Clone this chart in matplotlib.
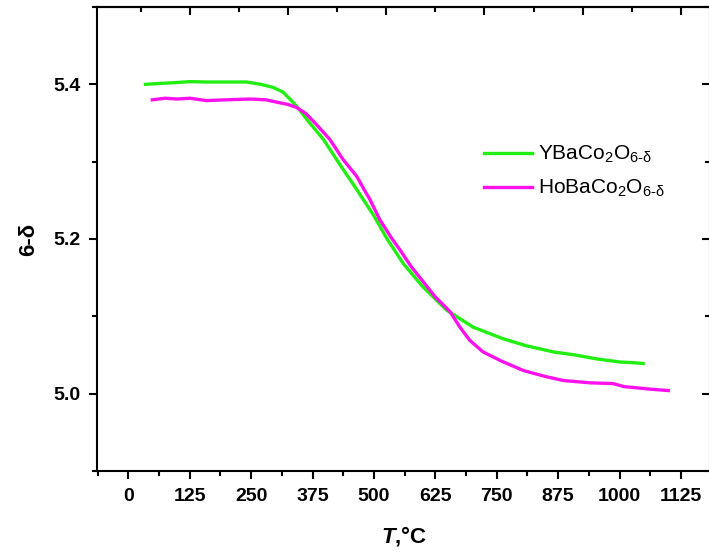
import matplotlib
matplotlib.use("Agg")
import matplotlib.pyplot as plt
from matplotlib.ticker import MultipleLocator, FixedLocator

plt.rcParams['font.family'] = ['Liberation Sans', 'DejaVu Sans']
plt.rcParams['mathtext.fontset'] = 'custom'
plt.rcParams['mathtext.rm'] = 'Liberation Sans'
plt.rcParams['mathtext.it'] = 'Liberation Sans:italic'
plt.rcParams['mathtext.bf'] = 'Liberation Sans:bold'
plt.rcParams['mathtext.bfit'] = 'Liberation Sans:italic:bold'

# --- data ---
y_T = [35, 60, 90, 126, 160, 200, 241, 270, 295, 315, 329, 345, 363, 380, 397,
       430, 465, 500, 526, 560, 600, 648, 702, 763, 810, 865, 910, 953, 1000, 1030, 1048]
y_val = [5.400, 5.401, 5.402, 5.4035, 5.403, 5.403, 5.403, 5.400, 5.396, 5.390,
         5.381, 5.370, 5.355, 5.342, 5.329, 5.297, 5.264, 5.230, 5.201, 5.168,
         5.138, 5.108, 5.086, 5.071, 5.062, 5.054, 5.050, 5.045, 5.041, 5.040, 5.039]

ho_T = [49, 75, 100, 126, 159, 200, 248, 280, 302, 325, 343, 362, 383, 410, 437,
        465, 480, 492, 512, 536, 553, 575, 600, 625, 655, 675, 695, 722, 760, 804,
        850, 886, 940, 987, 1010, 1028, 1060, 1099]
ho_val = [5.380, 5.382, 5.381, 5.382, 5.379, 5.380, 5.381, 5.380, 5.377, 5.374,
          5.370, 5.362, 5.348, 5.329, 5.303, 5.281, 5.264, 5.251, 5.225, 5.201,
          5.186, 5.165, 5.145, 5.125, 5.106, 5.086, 5.069, 5.054, 5.042, 5.030,
          5.022, 5.017, 5.014, 5.013, 5.009, 5.008, 5.006, 5.004]

x_ticks = [0, 125, 250, 375, 500, 625, 750, 875, 1000, 1125]
y_ticks = [5.0, 5.2, 5.4]
labels = [r'YBaCo$_\text{2}$O$_\text{6-δ}$',
          r'HoBaCo$_\text{2}$O$_\text{6-δ}$']

fig = plt.figure(figsize=(7.09, 5.57), dpi=100)
ax = fig.add_axes([97.3 / 709, 86 / 557, (710 - 97.3) / 709, (471 - 7) / 557])

ax.plot(y_T, y_val, color='#22ee11', lw=2.4, label=labels[0])
ax.plot(ho_T, ho_val, color='#ff11ee', lw=2.4, label=labels[1])

ax.set_xlim(-63, 1184)
ax.set_ylim(4.9, 5.5)

ax.xaxis.set_major_locator(FixedLocator(x_ticks))
ax.xaxis.set_minor_locator(MultipleLocator(62.5))
ax.yaxis.set_major_locator(FixedLocator(y_ticks))
ax.yaxis.set_minor_locator(MultipleLocator(0.1))

for s in ax.spines.values():
    s.set_linewidth(1.5)

ax.tick_params(which='major', direction='out', length=6, width=1.5, labelsize=14, pad=6)
ax.tick_params(which='minor', direction='out', length=3.5, width=1.5)
for lab in ax.get_xticklabels() + ax.get_yticklabels():
    lab.set_fontweight('bold')

# top axis ticks (inward)
top = ax.secondary_xaxis('top')
top.xaxis.set_major_locator(MultipleLocator(200, offset=125))
top.xaxis.set_minor_locator(MultipleLocator(200, offset=25))
top.tick_params(which='major', direction='in', length=6, width=1.5, labeltop=False)
top.tick_params(which='minor', direction='in', length=3.5, width=1.5)
top.spines['top'].set_linewidth(1.5)

right = ax.secondary_yaxis('right')
right.yaxis.set_major_locator(FixedLocator(y_ticks))
right.yaxis.set_minor_locator(MultipleLocator(0.1))
right.tick_params(which='major', direction='in', length=6, width=1.5, labelright=False)
right.tick_params(which='minor', direction='in', length=3.5, width=1.5)

ax.set_xlabel(r'$\mathbfit{T}$,°C', fontsize=16, fontweight='bold', labelpad=14)
ax.set_ylabel('6-δ', fontsize=16, fontweight='bold', labelpad=10)

leg = ax.legend(loc='upper left', bbox_to_anchor=(0.6, 0.745), frameon=False,
                fontsize=15, handlelength=2.3, handletextpad=0.3, labelspacing=0.6)

fig.savefig('out.png', dpi=100)
